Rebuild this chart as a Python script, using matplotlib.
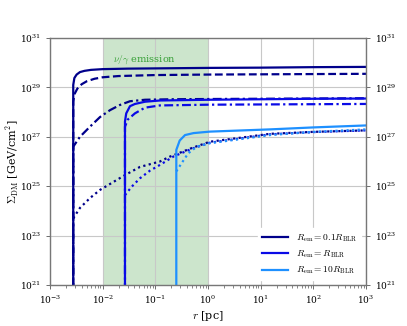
import matplotlib
matplotlib.use('Agg')
import matplotlib.pyplot as plt
import numpy as np
from matplotlib.ticker import LogLocator, FixedLocator, LogFormatterMathtext, NullFormatter

plt.rcParams['mathtext.fontset'] = 'cm'
plt.rcParams['font.family'] = 'DejaVu Serif'

# emission radii (pc) for the three cases
r_start = [0.00276, 0.0265, 0.25]

# R_em = 0.1 R_BLR (dark blue)
navy_solid_r = [0.00276, 0.00276, 0.0029, 0.0032, 0.0037, 0.0045, 0.006, 0.01, 0.03, 0.1, 1, 10, 100, 1000]
navy_solid_s = [20, 29.1, 29.38, 29.52, 29.62, 29.67, 29.71, 29.74, 29.76, 29.77, 29.79, 29.8, 29.82, 29.83]
navy_dash_r = [0.00276, 0.00276, 0.0029, 0.0033, 0.004, 0.005, 0.007, 0.01, 0.02, 0.1, 1, 10, 100, 1000]
navy_dash_s = [20, 28.42, 28.72, 28.95, 29.13, 29.25, 29.35, 29.41, 29.46, 29.5, 29.52, 29.53, 29.54, 29.55]
navy_dd_r = [0.00276, 0.00276, 0.0037, 0.00574, 0.0089, 0.0138, 0.0213, 0.033, 0.0635, 0.2, 1, 10, 100, 1000]
navy_dd_s = [20, 26.6, 27.0, 27.41, 27.8, 28.08, 28.29, 28.44, 28.5, 28.52, 28.53, 28.54, 28.55, 28.56]
navy_dot_r = [0.00276, 0.0037, 0.00574, 0.0089, 0.0265, 0.051, 0.122, 0.19, 0.5, 1.08, 15, 100, 1000]
navy_dot_s = [23.7, 24.12, 24.52, 24.85, 25.45, 25.78, 26.0, 26.2, 26.55, 26.8, 27.12, 27.2, 27.26]

# R_em = R_BLR (blue)
blue_solid_r = [0.0265, 0.0265, 0.028, 0.033, 0.041, 0.0635, 0.122, 1, 10, 100, 1000]
blue_solid_s = [20, 27.62, 27.95, 28.24, 28.33, 28.42, 28.47, 28.5, 28.52, 28.54, 28.55]
blue_dd_r = [0.0265, 0.0265, 0.03, 0.041, 0.0635, 0.122, 1, 10, 100, 1000]
blue_dd_s = [20, 27.41, 27.7, 27.95, 28.18, 28.27, 28.3, 28.31, 28.32, 28.33]
blue_dot_r = [0.0265, 0.0356, 0.051, 0.079, 0.122, 0.22, 0.5, 1.08, 15, 100, 1000]
blue_dot_s = [24.64, 24.98, 25.32, 25.63, 25.86, 26.2, 26.52, 26.76, 27.1, 27.19, 27.26]

# R_em = 10 R_BLR (light blue)
light_solid_r = [0.25, 0.25, 0.29, 0.366, 0.53, 1.08, 15, 100, 1000]
light_solid_s = [20, 26.47, 26.85, 27.07, 27.15, 27.21, 27.3, 27.38, 27.46]
light_dot_r = [0.25, 0.315, 0.42, 0.61, 1.08, 15, 100, 1000]
light_dot_s = [25.6, 25.93, 26.33, 26.6, 26.74, 27.07, 27.2, 27.3]

y_tick_exps = [21, 23, 25, 27, 29, 31]

c_navy = '#00008b'
c_blue = '#0a0ae6'
c_light = '#1e90ff'
lw = 1.6

fig = plt.figure(figsize=(4.07, 3.26), dpi=100)
ax = fig.add_axes([0.1229, 0.1258, 0.7764, 0.7576])

ax.axvspan(1e-2, 1, color='green', alpha=0.2, lw=0, zorder=0)
ax.text(1.6e-2, 10**30.05, r'$\nu/\gamma$ emission', color='#38a038', fontsize=7)


def curve(r, s, color, ls, label=None):
    ax.plot(r, 10**np.array(s, dtype=float), color=color, ls=ls, lw=lw, label=label)


curve(navy_solid_r, navy_solid_s, c_navy, '-', r'$R_{\rm em} = 0.1 R_{\rm BLR}$')
curve(navy_dash_r, navy_dash_s, c_navy, (0, (3.5, 1.6)))
curve(navy_dd_r, navy_dd_s, c_navy, (0, (4, 1.5, 1, 1.5)))
curve(navy_dot_r, navy_dot_s, c_navy, (0, (1, 1.5)))
curve(blue_solid_r, blue_solid_s, c_blue, '-', r'$R_{\rm em} = R_{\rm BLR}$')
curve(blue_dd_r, blue_dd_s, c_blue, (0, (4, 1.5, 1, 1.5)))
curve(blue_dot_r, blue_dot_s, c_blue, (0, (1, 1.5)))
curve(light_solid_r, light_solid_s, c_light, '-', r'$R_{\rm em} = 10 R_{\rm BLR}$')
curve(light_dot_r, light_dot_s, c_light, (0, (1, 1.5)))

ax.set_xscale('log')
ax.set_yscale('log')
ax.set_xlim(1e-3, 1e3)
ax.set_ylim(1e21, 1e31)

ax.xaxis.set_major_locator(LogLocator(base=10, numticks=20))
ax.xaxis.set_minor_locator(LogLocator(base=10, subs=np.arange(2, 10), numticks=20))
ax.xaxis.set_minor_formatter(NullFormatter())
ax.yaxis.set_major_locator(FixedLocator([10.0**e for e in y_tick_exps]))
ax.yaxis.set_major_formatter(LogFormatterMathtext())
ax.yaxis.set_minor_locator(plt.NullLocator())
ax.tick_params(axis='both', which='major', labelsize=6.5, length=3, width=0.6, color='#555555')
ax.tick_params(axis='x', which='minor', length=1.8, width=0.5, color='#555555')
ax.tick_params(axis='y', right=True, labelright=True)

ax.grid(True, which='major', color='#c8c8c8', lw=0.8)
for sp in ax.spines.values():
    sp.set_color('#777777')
    sp.set_linewidth(1.0)

ax.set_xlabel(r'$r$ [pc]', fontsize=8, labelpad=2)
ax.set_ylabel(r'$\Sigma_{\rm DM}$ [GeV/cm$^2$]', fontsize=8)
ax.yaxis.set_label_coords(-0.092, 0.5)

leg = ax.legend(loc='lower right', fontsize=6.8, frameon=True, fancybox=False,
                edgecolor='white', framealpha=1, handlelength=2.8)

fig.savefig('out.png', dpi=100)
